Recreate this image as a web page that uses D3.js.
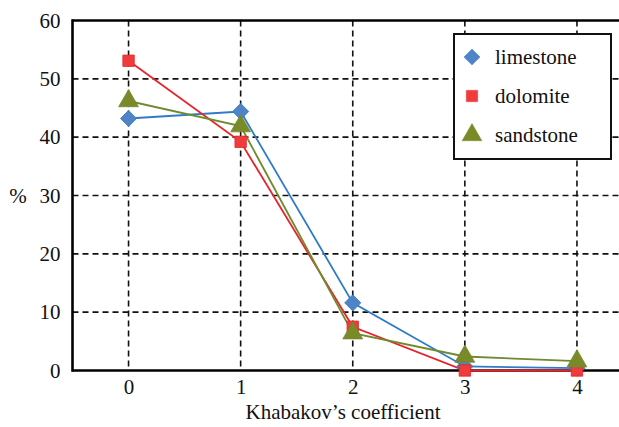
<!DOCTYPE html>
<html><head><meta charset="utf-8">
<script src="https://cdn.jsdelivr.net/npm/d3@7"></script>
</head><body style="margin:0;background:#fff">
<svg id="c" width="619" height="427" style="display:block" font-family="Liberation Serif"></svg>
<script>
const categories = [0, 1, 2, 3, 4];
const limestone = [43.2, 44.4, 11.6, 0.7, 0.4];
const dolomite = [53.1, 39.2, 7.5, 0, 0];
const sandstone = [46.2, 41.9, 6.4, 2.4, 1.6];
const yTicks = [0, 10, 20, 30, 40, 50, 60];
const seriesNames = ["limestone", "dolomite", "sandstone"];

const series = [
  {name: seriesNames[0], values: limestone, line: "#2e7bc6", fill: "#4f84c8", shape: d3.symbolSquare, size: 130, rot: 45},
  {name: seriesNames[1], values: dolomite, line: "#e8232a", fill: "#ee3b3b", shape: d3.symbolSquare, size: 130, rot: 0},
  {name: seriesNames[2], values: sandstone, line: "#6f8a2f", fill: "#7a8a28", shape: d3.symbolTriangle, size: 170, rot: 0}
];

const svg = d3.select("#c");
const L = 72.5, T = 20.5, B = 370.5;
const x = d3.scaleLinear().domain([-0.5, 4.5]).range([L, 633]);
const y = d3.scaleLinear().domain([0, 60]).range([B, T]);
const fs = 21;
const FF = '"Liberation Serif"';
function serif(sel) { return sel.style("font-family", FF).attr("font-size", fs).attr("fill", "#111"); }

const g = svg.append("g");
g.selectAll(".hg").data(yTicks.filter(v => v > 0 && v < 60)).join("line")
  .attr("x1", L).attr("x2", 619).attr("y1", d => y(d)).attr("y2", d => y(d))
  .attr("stroke", "#111").attr("stroke-width", 1.6).attr("stroke-dasharray", "6,4");
g.selectAll(".vg").data(categories).join("line")
  .attr("x1", d => x(d)).attr("x2", d => x(d)).attr("y1", T).attr("y2", B)
  .attr("stroke", "#111").attr("stroke-width", 1.6).attr("stroke-dasharray", "6,4");

const yAxis = d3.axisLeft(y).tickValues(yTicks).tickFormat(d3.format("d")).tickSize(0).tickPadding(12);
const ya = svg.append("g").attr("transform", `translate(${L},0)`).call(yAxis);
ya.attr("font-family", null).attr("font-size", null);
ya.select(".domain").remove();
serif(ya.selectAll("text"));

const xAxis = d3.axisBottom(x).tickValues(categories).tickFormat(d3.format("d")).tickSize(0).tickPadding(9);
const xa = svg.append("g").attr("transform", `translate(0,${B})`).call(xAxis);
xa.attr("font-family", null).attr("font-size", null);
xa.select(".domain").remove();
serif(xa.selectAll("text"));

svg.append("line").attr("x1", L).attr("x2", L).attr("y1", T - 1.2).attr("y2", B + 1.2).attr("stroke", "#000").attr("stroke-width", 2.6);
svg.append("line").attr("x1", L).attr("x2", 619).attr("y1", B).attr("y2", B).attr("stroke", "#000").attr("stroke-width", 2.6);
svg.append("line").attr("x1", L).attr("x2", 619).attr("y1", T).attr("y2", T).attr("stroke", "#000").attr("stroke-width", 2.6);

serif(svg.append("text").attr("x", 18).attr("y", 203).attr("text-anchor", "middle")).text("%");
serif(svg.append("text").attr("x", 343).attr("y", 419).attr("text-anchor", "middle")).text("Khabakov’s coefficient");

const line = d3.line().x((d, i) => x(categories[i])).y(d => y(d));
series.forEach(s => {
  svg.append("path").attr("d", line(s.values)).attr("fill", "none")
    .attr("stroke", s.line).attr("stroke-width", 1.8);
});
series.forEach(s => {
  svg.selectAll(null).data(s.values).join("path")
    .attr("d", d3.symbol().type(s.shape).size(s.size))
    .attr("transform", (d, i) => `translate(${x(categories[i])},${y(d)}) rotate(${s.rot})`)
    .attr("fill", s.fill).attr("stroke", s.line).attr("stroke-width", 0.8);
});

const lg = svg.append("g");
lg.append("rect").attr("x", 454).attr("y", 34).attr("width", 157).attr("height", 125)
  .attr("fill", "#fff").attr("stroke", "#111").attr("stroke-width", 2);
series.forEach((s, i) => {
  const cy = 57 + i * 39;
  lg.append("path").attr("d", d3.symbol().type(s.shape).size(s.size))
    .attr("transform", `translate(472,${cy}) rotate(${s.rot})`)
    .attr("fill", s.fill).attr("stroke", s.fill).attr("stroke-width", 0.5);
  serif(lg.append("text").attr("x", 495).attr("y", cy + 7)).text(s.name);
});
</script>
</body></html>
